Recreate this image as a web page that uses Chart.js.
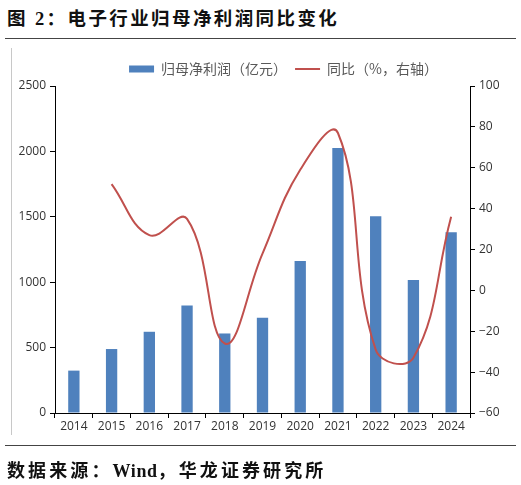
<!DOCTYPE html>
<html><head><meta charset="utf-8">
<script src="https://cdn.jsdelivr.net/npm/chart.js@4.4.0/dist/chart.umd.min.js"></script>
<style>
html,body{margin:0;padding:0;background:#fff;width:521px;height:485px;overflow:hidden;position:relative;}
#title{position:absolute;left:7px;top:4px;font-weight:bold;font-size:18.5px;font-family:"Liberation Serif","Noto Sans CJK SC",serif;letter-spacing:2.4px;color:#111;white-space:nowrap;}
#footer{position:absolute;left:7px;top:456px;font-weight:bold;font-size:18px;font-family:"Liberation Serif","Noto Sans CJK SC",serif;letter-spacing:3.1px;color:#111;white-space:nowrap;}
#footer .en{letter-spacing:0.6px;}
.hr{position:absolute;left:5px;width:511px;height:1px;background:#444;}
#vline{position:absolute;left:11px;top:48px;width:1px;height:387px;background:#c8c8c8;}
#wrap{position:absolute;left:0;top:0;width:521px;height:485px;}
</style></head>
<body>
<div id="title">图 2：电子行业归母净利润同比变化</div>
<div class="hr" style="top:38px"></div>
<div id="vline"></div>
<div id="wrap"><canvas id="c"></canvas></div>
<div class="hr" style="top:445px"></div>
<div id="footer">数据来源：<span class="en">Wind</span>，华龙证券研究所</div>
<script>
const categories = ['2014','2015','2016','2017','2018','2019','2020','2021','2022','2023','2024'];
const netProfit = [324, 489, 621, 822, 608, 728, 1162, 2026, 1505, 1017, 1381];
const yoyGrowth = [null, 52, 27, 35, -26, 18, 59, 77, -29, -33, 36];
const seriesNames = ['归母净利润（亿元）', '同比（%，右轴）'];
const leftTicks = {min: 0, max: 2500, step: 500};
const rightTicks = {min: -60, max: 100, step: 20};

const tickFont = {family: '"Open Sans", "Noto Sans", sans-serif', size: 12};
const tickColor = '#333';

const legendShift = {
  id: 'legendShift',
  afterLayout(chart) {
    const lg = chart.legend;
    if (lg) { lg.left += 23; lg.right += 23; }
  }
};

new Chart(document.getElementById('c'), {
  data: {
    labels: categories,
    datasets: [
      {type: 'bar', label: seriesNames[0], data: netProfit, yAxisID: 'y',
       backgroundColor: '#4F81BD', borderWidth: 0, barPercentage: 0.3, categoryPercentage: 1, order: 2},
      {type: 'line', label: seriesNames[1], data: yoyGrowth, yAxisID: 'y1',
       borderColor: '#C0504D', backgroundColor: '#C0504D', borderWidth: 2, pointRadius: 0,
       tension: 0.42, fill: false, order: 1}
    ]
  },
  plugins: [legendShift],
  options: {
    responsive: true, maintainAspectRatio: false, animation: false,
    layout: {padding: {top: 54, left: 0, right: 0, bottom: 47}},
    plugins: {
      tooltip: {enabled: false},
      legend: {
        position: 'top', align: 'center',
        labels: {
          usePointStyle: true, pointStyleWidth: 25, boxHeight: 7, padding: 8,
          color: '#595959', font: {family: '"Noto Sans CJK SC", sans-serif', size: 14},
          generateLabels(chart) {
            return chart.data.datasets.map((ds, i) => ({
              text: ds.label, datasetIndex: i,
              fillStyle: ds.type === 'bar' ? ds.backgroundColor : 'transparent',
              strokeStyle: ds.type === 'bar' ? ds.backgroundColor : ds.borderColor,
              lineWidth: ds.type === 'bar' ? 0 : 2,
              pointStyle: ds.type === 'bar' ? 'rect' : 'line',
              fontColor: '#595959', hidden: false
            }));
          }
        }
      }
    },
    scales: {
      x: {
        offset: true,
        grid: {display: true, drawOnChartArea: false, drawTicks: true, tickLength: 5, color: '#000', offset: true},
        border: {display: true, color: '#000', width: 1},
        ticks: {color: tickColor, font: tickFont, padding: 1, maxRotation: 0, autoSkip: false},
        afterFit(s) { s.height = 25; }
      },
      y: {
        position: 'left', min: leftTicks.min, max: leftTicks.max,
        grid: {display: true, drawOnChartArea: false, drawTicks: true, tickLength: 5, color: '#000'},
        border: {display: true, color: '#000', width: 1},
        ticks: {stepSize: leftTicks.step, color: tickColor, font: tickFont, padding: 4,
                callback: v => String(v)},
        afterFit(s) { s.width = 55; }
      },
      y1: {
        position: 'right', min: rightTicks.min, max: rightTicks.max,
        grid: {display: true, drawOnChartArea: false, drawTicks: true, tickLength: 5, color: '#000'},
        border: {display: true, color: '#000', width: 1},
        ticks: {stepSize: rightTicks.step, color: tickColor, font: tickFont, padding: 4,
                callback: v => (v < 0 ? '\u2212' + Math.abs(v) : String(v))},
        afterFit(s) { s.width = 51; }
      }
    }
  }
});
</script>
</body></html>
